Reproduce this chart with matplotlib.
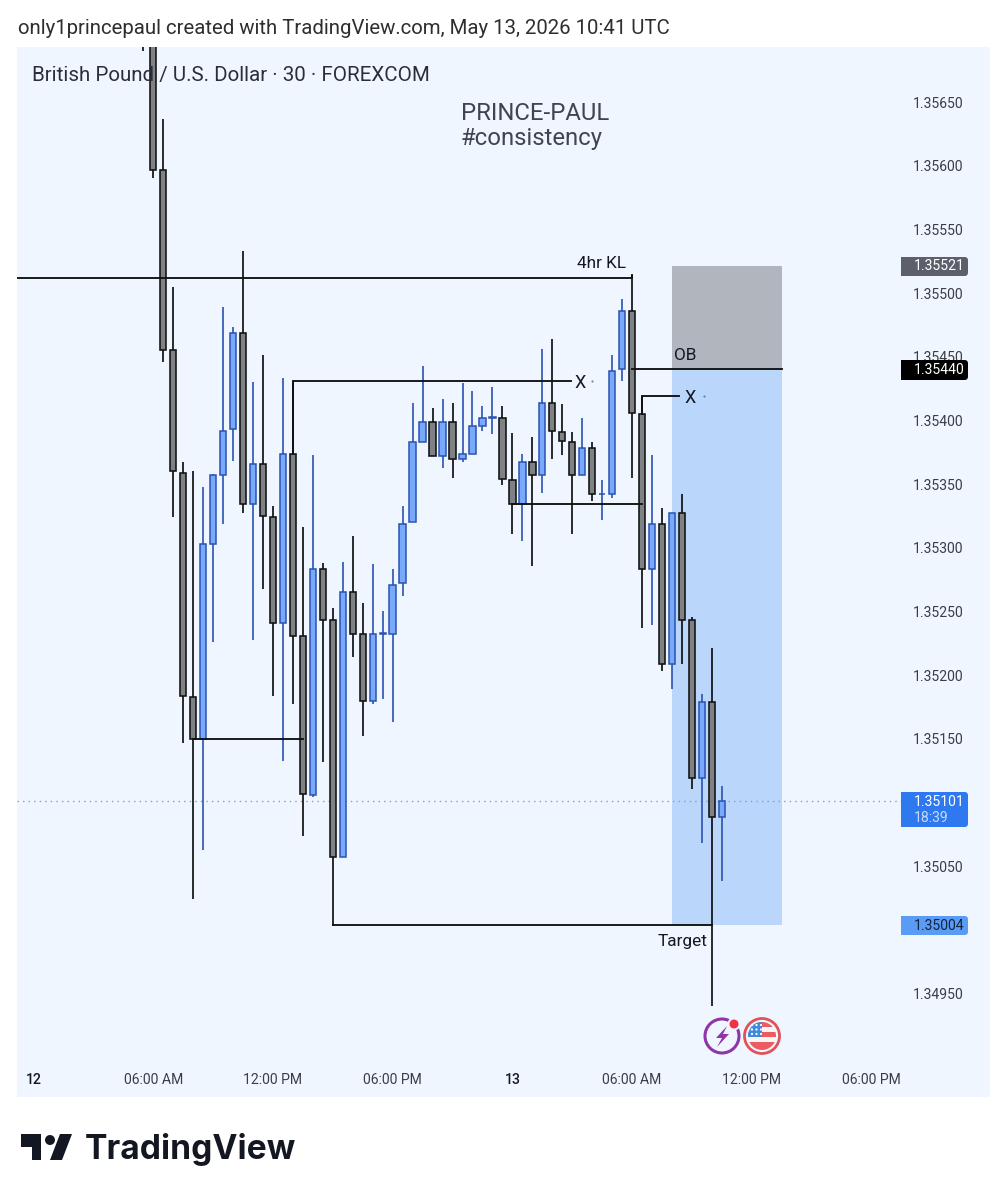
import matplotlib
matplotlib.use("Agg")
import matplotlib.pyplot as plt
from matplotlib.patches import Circle, FancyBboxPatch, Polygon, Rectangle
import numpy as np

plt.rcParams["font.family"] = ["Roboto", "DejaVu Sans"]

# prices are stored in 1e-5 units, bars count half hours from 12 May 00:00
bar_n = list(range(11, 70))
bar_open = [135760, 135720, 135597, 135455, 135359, 135183, 135150, 135303, 135357, 135393,
            135469, 135334, 135366, 135324, 135241, 135374, 135231, 135106, 135283, 135243,
            135057, 135265, 135232, 135180, 135232, 135232, 135272, 135320, 135383, 135399,
            135372, 135399, 135370, 135374, 135396, 135402, 135402, 135353, 135334, 135367,
            135357, 135414, 135391, 135383, 135357, 135378, 135342, 135342, 135440, 135486,
            135405, 135283, 135319, 135209, 135327, 135243, 135119, 135179, 135089]
bar_high = [135780, 135730, 135637, 135505, 135367, 135360, 135348, 135358, 135489, 135473,
            135533, 135430, 135451, 135333, 135433, 135430, 135316, 135373, 135288, 135253,
            135289, 135309, 135257, 135287, 135250, 135283, 135333, 135414, 135443, 135410,
            135417, 135414, 135429, 135423, 135411, 135426, 135411, 135390, 135374, 135387,
            135456, 135464, 135413, 135391, 135402, 135383, 135353, 135451, 135495, 135514,
            135419, 135373, 135331, 135327, 135342, 135246, 135185, 135221, 135113]
bar_low = [135690, 135590, 135446, 135324, 135147, 135024, 135063, 135226, 135319, 135368,
           135327, 135228, 135268, 135184, 135133, 135177, 135074, 135104, 135132, 135003,
           135057, 135214, 135152, 135177, 135181, 135163, 135262, 135320, 135383, 135372,
           135363, 135355, 135367, 135374, 135392, 135389, 135349, 135311, 135305, 135286,
           135343, 135370, 135373, 135311, 135357, 135337, 135322, 135339, 135431, 135355,
           135237, 135239, 135203, 135189, 135209, 135111, 135068, 134940, 135038]
bar_close = [135720, 135597, 135455, 135360, 135184, 135150, 135303, 135357, 135392, 135469,
             135334, 135366, 135325, 135241, 135374, 135231, 135107, 135283, 135243, 135057,
             135265, 135232, 135180, 135232, 135233, 135271, 135319, 135383, 135399, 135372,
             135399, 135370, 135374, 135396, 135402, 135403, 135354, 135334, 135367, 135357,
             135414, 135392, 135384, 135357, 135378, 135342, 135342, 135439, 135486, 135406,
             135283, 135319, 135209, 135327, 135243, 135119, 135179, 135089, 135101]

price_ticks = [135650, 135600, 135550, 135500, 135450, 135400, 135350, 135300,
               135250, 135200, 135150, 135050, 134950]
time_ticks = [0, 12, 24, 36, 48, 60, 72, 84]
time_labels = ["12", "06:00 AM", "12:00 PM", "06:00 PM", "13", "06:00 AM", "12:00 PM", "06:00 PM"]

ob_top, ob_mid, ob_bottom = 135521, 135440, 135004
last_price = 135101

BG = "#F0F6FF"
UP_FILL, UP_EDGE = "#78A9FA", "#2A52B0"
DOWN_FILL, DOWN_EDGE = "#7F8285", "#111111"

o = np.array(bar_open) / 1e5
h = np.array(bar_high) / 1e5
l = np.array(bar_low) / 1e5
c = np.array(bar_close) / 1e5
n = np.array(bar_n)
up = c >= o

fig = plt.figure(figsize=(10.07, 12.0), dpi=100, facecolor="white")
ax = fig.add_axes([17 / 1007, 103 / 1200, 973 / 1007, 1050 / 1200], facecolor=BG)
ax.set_xlim(-1.66, 95.88)
ax.set_ylim(1.348688, 1.356932)
for s in ax.spines.values():
    s.set_visible(False)

ax.set_yticks(np.array(price_ticks) / 1e5, [f"{p / 1e5:.5f}" for p in price_ticks])
ax.yaxis.tick_right()
ax.tick_params(axis="y", length=0, pad=-55.6, labelsize=10.1, labelcolor="#3A3D45")
ax.set_xticks(time_ticks, time_labels)
ax.tick_params(axis="x", length=0, pad=-17.5, labelsize=10.1, labelcolor="#3A3D45")
for t in ax.get_xticklabels():
    if t.get_text() in ("12", "13"):
        t.set_color("#131722")
        t.set_fontweight("medium")

# position boxes
ax.add_patch(Rectangle((64, ob_mid / 1e5), 11, (ob_top - ob_mid) / 1e5, color="#B1B5BE", lw=0, zorder=1.5))
ax.add_patch(Rectangle((64, ob_bottom / 1e5), 11, (ob_mid - ob_bottom) / 1e5, color="#BBD6FB", lw=0, zorder=1.5))

# current price line
ax.plot([-1.66, 87], [last_price / 1e5] * 2, color="#7C9FD6", lw=1, ls=(0, (1, 3)), zorder=1.8)

# candles
ax.vlines(n[up], l[up], h[up], color=UP_EDGE, lw=1.2, zorder=2)
ax.vlines(n[~up], l[~up], h[~up], color=DOWN_EDGE, lw=1.25, zorder=2)
ax.bar(n[up], (c - o)[up], bottom=o[up], width=0.64, color=UP_FILL, edgecolor=UP_EDGE, lw=1.1, zorder=3)
ax.bar(n[~up], (c - o)[~up], bottom=o[~up], width=0.64, color=DOWN_FILL, edgecolor=DOWN_EDGE, lw=1.15, zorder=3)

# drawn levels
line = dict(color="#111111", lw=1.35, zorder=5, solid_joinstyle="miter")
ax.plot([-1.66, 60, 60], [1.35512, 1.35512, 1.35514], **line)
ax.plot([60, 75], [1.3544, 1.3544], **line)
ax.plot([26, 26, 53.9], [1.35374, 1.35431, 1.35431], **line)
ax.plot([61, 61, 64.7], [1.35405, 1.35419, 1.35419], **line)
ax.plot([16, 27], [1.3515, 1.3515], **line)
ax.plot([48, 61], [1.35334, 1.35334], **line)
ax.plot([30, 68], [1.35004, 1.35004], **line)
ax.plot([56, 67.2], [1.35431, 1.35419], ls="none", marker=".", ms=0.8, color="#555555", zorder=5)

label = dict(color="#131722", fontsize=12.4, zorder=6, va="center")
ax.text(54.5, 1.35523, "4hr KL", **label)
ax.text(54.2, 1.35429, "X", fontsize=13, color="#131722", zorder=6, va="center")
ax.text(65.3, 1.35418, "X", fontsize=13, color="#131722", zorder=6, va="center")
ax.text(64.2, 1.35451, "OB", **label)
ax.text(62.6, 1.34991, "Target", **label)
ax.text(42.8, 1.35631, "PRINCE-PAUL\n#consistency", fontsize=17.2, color="#3F4450",
        va="center", linespacing=1.1, zorder=6)

# everything below is page furniture, laid out in pixels
ov = fig.add_axes([0, 0, 1, 1], facecolor="none")
ov.set_xlim(0, 1007)
ov.set_ylim(1200, 0)
ov.axis("off")

ov.text(18, 28, "only1princepaul created with TradingView.com, May 13, 2026 10:41 UTC",
        fontsize=14.66, color="#2E2E2E", va="center")
ov.text(32, 75, "British Pound / U.S. Dollar · 30 · FOREXCOM", fontsize=14.77, color="#2A2E39", va="center")


def price_tag(y0, y1, color, text, text_color, sub=None):
    ov.add_patch(FancyBboxPatch((901, y0), 67, y1 - y0, boxstyle="round,pad=0,rounding_size=3.5",
                                fc=color, ec="none", zorder=3))
    ov.add_patch(Rectangle((901, y0), 10, y1 - y0, fc=color, ec="none", zorder=3))
    if sub:
        ov.text(914, y0 + 10, text, color=text_color, fontsize=10.1, va="center", zorder=4)
        ov.text(914, y0 + 26, sub, color="#C5DAFB", fontsize=10.1, va="center", zorder=4)
    else:
        ov.text(914, (y0 + y1) / 2, text, color=text_color, fontsize=10.1, va="center", zorder=4)


price_tag(257, 276, "#5D606B", "1.35521", "#FFFFFF")
price_tag(360, 380, "#000000", "1.35440", "#FFFFFF")
price_tag(792, 827, "#2E78F0", "1.35101", "#FFFFFF", "18:39")
price_tag(916, 935, "#5A9BF5", "1.35004", "#12233F")

# event icons
ov.add_patch(Circle((722, 1036), 17, fc="none", ec="#8E35A8", lw=2.2))
ov.add_patch(Polygon([(727, 1026), (716, 1038), (722, 1038), (717, 1047), (729, 1034), (723, 1034)],
                     fc="#8E35A8", ec="none"))
ov.add_patch(Circle((734, 1024), 6.5, fc=BG, ec="none"))
ov.add_patch(Circle((734, 1024), 4.5, fc="#EE3344", ec="none"))

ov.add_patch(Circle((762, 1036), 17.5, fc=BG, ec="#E05258", lw=2))
disc = Circle((762, 1036), 14, transform=ov.transData)
ov.add_patch(Circle((762, 1036), 14, fc="#F6F6F6", ec="none"))
for y0, y1 in [(1022, 1027), (1032, 1037), (1042, 1051)]:
    r = ov.add_patch(Rectangle((746, y0), 34, y1 - y0, fc="#EC5B5F", ec="none"))
    r.set_clip_path(disc)
canton = ov.add_patch(Rectangle((746, 1020), 16, 17, fc="#3D8BDD", ec="none"))
canton.set_clip_path(disc)
for dy in (1025, 1029.5, 1034):
    for dx in (752, 756.5, 761):
        ov.add_patch(Circle((dx, dy), 1.1, fc="white", ec="none"))

# TradingView logo
ov.add_patch(Polygon([(21, 1134), (41, 1134), (41, 1160), (32, 1160), (32, 1147), (21, 1147)], fc="#131722", ec="none"))
ov.add_patch(Circle((50, 1140), 5, fc="#131722", ec="none"))
ov.add_patch(Polygon([(60, 1134), (72, 1134), (62, 1160), (50, 1160)], fc="#131722", ec="none"))
ov.text(85, 1150, "TradingView", family="Inter", fontsize=24.2, fontweight="bold", color="#131722", va="center")

fig.savefig("out.png", dpi=100)
